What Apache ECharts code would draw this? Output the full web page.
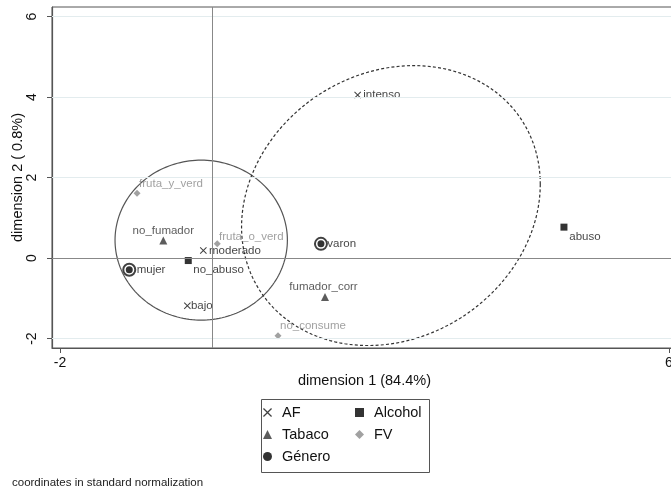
<!DOCTYPE html>
<html>
<head>
<meta charset="utf-8">
<script src="https://cdn.jsdelivr.net/npm/echarts@6/dist/echarts.min.js"></script>
<style>
  html, body { margin: 0; padding: 0; background: #fff; }
  #chart { width: 671px; height: 492px; }
</style>
</head>
<body>
<div id="chart"></div>
<script>
// Correspondence analysis: category coordinates on dimensions 1 and 2
const xTicks = [-2, 6];
const yTicks = [-2, 0, 2, 4, 6];
const gridYValues = [-2, 2, 4, 6];

const afNames = ['intenso', 'moderado', 'bajo'];
const afX = [1.91, -0.117, -0.327];
const afY = [4.055, 0.189, -1.185];

const tabacoNames = ['no_fumador', 'fumador_corr'];
const tabacoX = [-0.643, 1.481];
const tabacoY = [0.437, -0.968];

const generoNames = ['mujer', 'varon'];
const generoX = [-1.09, 1.428];
const generoY = [-0.29, 0.355];

const alcoholNames = ['no_abuso', 'abuso'];
const alcoholX = [-0.315, 4.62];
const alcoholY = [-0.06, 0.77];

const fvNames = ['fruta_y_verd', 'fruta_o_verd', 'no_consume'];
const fvX = [-0.988, 0.066, 0.864];
const fvY = [1.614, 0.355, -1.93];

// Ellipses: centre plus two conjugate semi-diameters, in data units
const ellipseSolid = { center: [-0.145, 0.447], u: [1.132, 0], v: [0, 1.987] };
const ellipseDashed = { center: [2.347, 1.306], u: [1.962, 0.531], v: [0, 3.437] };

// Label placement around each marker (pixels from marker centre)
const labelPlace = {
  intenso: [5.6, 0, 'left'], moderado: [5.7, 0, 'left'], bajo: [3.6, 0, 'left'],
  no_fumador: [0, -10, 'center'], fumador_corr: [-1.5, -10, 'center'],
  mujer: [7.4, 0, 'left'], varon: [6.3, 0, 'left'],
  no_abuso: [5, 9.5, 'left'], abuso: [5.3, 10, 'left'],
  fruta_y_verd: [2, -9, 'left'], fruta_o_verd: [1.7, -7.5, 'left'], no_consume: [2, -9.5, 'left']
};

const FONT = '"Liberation Sans", Arial, sans-serif';
const X_PATH = 'path://M0,1L1,0L5,4L9,0L10,1L6,5L10,9L9,10L5,6L1,10L0,9L4,5Z';

function points(names, xs, ys, size, labelColor) {
  return names.map((n, i) => {
    const p = labelPlace[n];
    return {
      name: n,
      value: [xs[i], ys[i]],
      label: {
        show: true,
        formatter: n,
        position: [size / 2 + p[0], size / 2 + p[1]],
        align: p[2],
        verticalAlign: 'middle',
        color: labelColor,
        fontSize: 11.5,
        fontFamily: FONT
      }
    };
  });
}

function ellipseSeries(e, dashed) {
  return {
    type: 'custom',
    silent: true,
    z: 1,
    data: [[e.center[0], e.center[1]]],
    renderItem: function (params, api) {
      const pts = [];
      const n = 180;
      for (let k = 0; k <= n; k++) {
        const t = (k / n) * Math.PI * 2;
        const c = Math.cos(t), s = Math.sin(t);
        pts.push(api.coord([
          e.center[0] + e.u[0] * c + e.v[0] * s,
          e.center[1] + e.u[1] * c + e.v[1] * s
        ]));
      }
      return {
        type: 'polyline',
        shape: { points: pts },
        style: {
          fill: null,
          stroke: dashed ? '#333' : '#555',
          lineWidth: 1.2,
          lineDash: dashed ? [3, 2.2] : null
        }
      };
    }
  };
}

const chart = echarts.init(document.getElementById('chart'), null, { renderer: 'canvas' });

const legendText = { color: '#111', fontSize: 14.5, fontFamily: FONT, padding: [0, 0, 0, 5] };

chart.setOption({
  animation: false,
  backgroundColor: '#fff',
  grid: {
    left: 52, top: 7, width: 625, height: 341,
    outerBoundsMode: 'none', containLabel: false,
    show: true, borderColor: '#555', borderWidth: 1, backgroundColor: 'transparent'
  },
  xAxis: {
    type: 'value', min: -2.105, max: 6.105,
    name: 'dimension 1 (84.4%)', nameLocation: 'middle', nameGap: 25, nameMoveOverlap: false,
    nameTextStyle: { color: '#111', fontSize: 14.5, fontFamily: FONT },
    axisLine: { show: true, onZero: false, lineStyle: { color: '#555', width: 1.2 } },
    axisTick: { show: true, length: 5, customValues: xTicks, lineStyle: { color: '#555' } },
    axisLabel: { customValues: xTicks, margin: 8, color: '#111', fontSize: 14, fontFamily: FONT, showMinLabel: true, showMaxLabel: true },
    splitLine: { show: false }
  },
  yAxis: {
    type: 'value', min: -2.233, max: 6.24,
    name: 'dimension 2 ( 0.8%)', nameLocation: 'middle', nameGap: 27, nameRotate: 90, nameMoveOverlap: false,
    nameTextStyle: { color: '#111', fontSize: 14.5, fontFamily: FONT },
    axisLine: { show: true, onZero: false, lineStyle: { color: '#555', width: 1.2 } },
    axisTick: { show: true, length: 5, customValues: yTicks, lineStyle: { color: '#555' } },
    axisLabel: { customValues: yTicks, rotate: 90, margin: 13, color: '#111', fontSize: 14, fontFamily: FONT },
    splitLine: { show: false }
  },
  legend: [
    {
      left: 263, top: 405, orient: 'vertical', padding: 0, itemGap: 7,
      itemWidth: 9, itemHeight: 9,
      data: ['AF', 'Tabaco', 'Género'],
      textStyle: legendText
    },
    {
      left: 355, top: 405, orient: 'vertical', padding: 0, itemGap: 7,
      itemWidth: 9, itemHeight: 9,
      data: ['Alcohol', 'FV'],
      textStyle: legendText
    }
  ],
  graphic: [
    {
      type: 'rect', left: 259, top: 397, silent: true,
      shape: { width: 168, height: 73 },
      style: { fill: 'none', stroke: '#555', lineWidth: 1 }
    },
    {
      type: 'text', left: 12, top: 477, silent: true,
      style: { text: 'coordinates in standard normalization', fill: '#222', fontSize: 11.5, fontFamily: FONT }
    }
  ],
  series: [
    {
      type: 'scatter', symbolSize: 0, silent: true, data: [], z: 0,
      markLine: {
        silent: true, symbol: 'none', label: { show: false }, animation: false,
        data: gridYValues.map(v => ({ yAxis: v, lineStyle: { color: '#e3ecee', width: 1, type: 'solid' } }))
          .concat([
            { yAxis: 0, lineStyle: { color: '#888', width: 1, type: 'solid' } },
            { xAxis: 0, lineStyle: { color: '#888', width: 1, type: 'solid' } }
          ])
      }
    },
    ellipseSeries(ellipseSolid, false),
    ellipseSeries(ellipseDashed, true),
    {
      name: 'AF', type: 'scatter', symbol: X_PATH, symbolSize: 7,
      itemStyle: { color: '#111' }, z: 3,
      data: points(afNames, afX, afY, 7, '#111')
    },
    {
      name: 'Tabaco', type: 'scatter', symbol: 'triangle', symbolSize: 8,
      itemStyle: { color: '#333' }, z: 3,
      data: points(tabacoNames, tabacoX, tabacoY, 8, '#333')
    },
    {
      name: 'Género', type: 'scatter', symbol: 'circle', symbolSize: 7,
      itemStyle: { color: '#000' }, z: 4,
      data: points(generoNames, generoX, generoY, 7, '#111')
    },
    {
      name: 'Género ring', type: 'scatter', symbol: 'emptyCircle', symbolSize: 12,
      itemStyle: { color: '#111', borderColor: '#111', borderWidth: 1 }, z: 3, silent: true,
      data: generoX.map((x, i) => [x, generoY[i]])
    },
    {
      name: 'Alcohol', type: 'scatter', symbol: 'rect', symbolSize: 7,
      itemStyle: { color: '#000' }, z: 3,
      data: points(alcoholNames, alcoholX, alcoholY, 7, '#111')
    },
    {
      name: 'FV', type: 'scatter', symbol: 'diamond', symbolSize: 7,
      itemStyle: { color: '#8a8a8a' }, z: 3,
      data: points(fvNames, fvX, fvY, 7, '#8a8a8a')
    }
  ]
});
</script>
</body>
</html>
